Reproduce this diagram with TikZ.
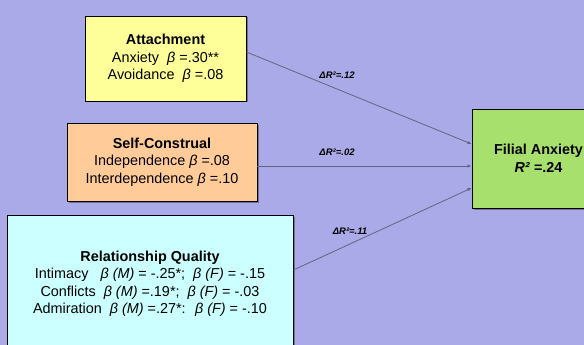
\documentclass[tikz,border=0pt]{standalone}
\usepackage{fontspec}
\setmainfont{Liberation Sans}
\usetikzlibrary{arrows.meta,shadows}
\definecolor{bgc}{RGB}{170,170,232}
\definecolor{attc}{RGB}{255,255,153}
\definecolor{scc}{RGB}{255,204,153}
\definecolor{rqc}{RGB}{204,255,255}
\definecolor{filc}{RGB}{168,224,110}
\definecolor{linec}{RGB}{100,100,130}
\tikzset{
  box/.style={draw=black, line width=0.9pt, align=center, inner sep=2pt,
    font=\fontsize{14.4}{17.5}\selectfont,
    drop shadow={shadow xshift=1.5pt, shadow yshift=-1.5pt, opacity=0.6, fill=black!70}},
  conn/.style={draw=linec, line width=0.8pt, -{Latex[length=4pt,width=3.5pt]}},
  dlabel/.style={font=\fontsize{9.5}{11}\selectfont\bfseries\itshape, inner sep=0pt}
}
\begin{document}
\begin{tikzpicture}[x=1pt,y=-1pt]
\useasboundingbox (0,0) rectangle (584,345);
\clip (0,0) rectangle (584,345);
\fill[bgc] (0,0) rectangle (584,345);

\node[box, fill=attc, minimum width=161pt, minimum height=85pt] (att) at (165.5,58.5)
  {\textbf{Attachment}\\Anxiety \ \textit{β} =.30**\\Avoidance \ \textit{β} =.08};
\node[box, fill=scc, minimum width=190pt, minimum height=78pt] (sc) at (162,162)
  {\textbf{Self-Construal}\\Independence \textit{β} =.08\\Interdependence \textit{β} =.10};
\node[box, fill=rqc, minimum width=286pt, minimum height=138pt] (rq) at (150,284)
  {\textbf{Relationship Quality}\\Intimacy \ \ \textit{β (M)} = -.25*; \ \textit{β (F)} = -.15\\
   Conflicts \ \textit{β (M)} =.19*; \ \textit{β (F)} = -.03\\
   Admiration \ \textit{β (M)} =.27*: \ \textit{β (F)} = -.10};
\node[box, fill=filc, minimum width=133pt, minimum height=99pt] (fil) at (538.5,158.5)
  {\textbf{Filial Anxiety}\\\textbf{\textit{R²} =.24}};

\draw[conn] ([yshift=6.5pt]att.east) -- ([yshift=14.5pt]fil.west);
\draw[conn] ([yshift=-4pt]sc.east) -- ([yshift=-7.5pt]fil.west);
\draw[conn] ([yshift=14pt]rq.east) -- ([yshift=-29.5pt]fil.west);

\node[dlabel] (l1) at (337,75) {ΔR²=.12};
\node[dlabel] (l2) at (337,152) {ΔR²=.02};
\node[dlabel] (l3) at (350,231) {ΔR²=.11};
\end{tikzpicture}
\end{document}
